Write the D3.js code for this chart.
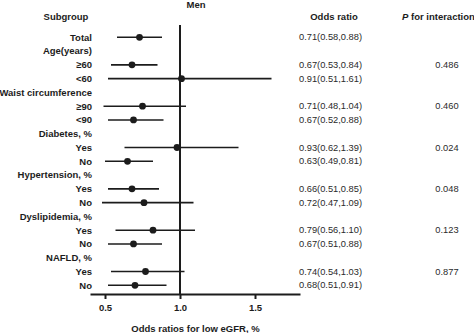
<!DOCTYPE html>
<html><head><meta charset="utf-8">
<script src="https://cdn.jsdelivr.net/npm/d3@7/dist/d3.min.js"></script>
<style>
html,body{margin:0;padding:0;background:#fff;}
svg{display:block;font-family:"Liberation Sans",Arial,sans-serif;}
</style></head>
<body>
<script>
// Row labels (left column), in order
const rowLabels = ["Total","Age(years)","≥60","<60","Waist circumference","≥90","<90",
  "Diabetes, %","Yes","No","Hypertension, %","Yes","No","Dyslipidemia, %","Yes","No","NAFLD, %","Yes","No"];
// Which rows are group headers (no data)
const headerRows = [1,4,7,10,13,16];
// Data rows (index into rowLabels)
const dataRows = [0,2,3,5,6,8,9,11,12,14,15,17,18];
// Plotted point estimates and CI
const pointEst = [0.73,0.68,1.01,0.75,0.69,0.98,0.65,0.68,0.76,0.82,0.69,0.77,0.70];
const ciLow    = [0.58,0.54,0.52,0.49,0.52,0.63,0.50,0.52,0.48,0.57,0.52,0.54,0.52];
const ciHigh   = [0.88,0.85,1.61,1.04,0.89,1.39,0.82,0.86,1.09,1.10,0.88,1.03,0.91];
// Printed odds-ratio text
const orText = ["0.71(0.58,0.88)","0.67(0.53,0.84)","0.91(0.51,1.61)","0.71(0.48,1.04)","0.67(0.52,0.88)",
  "0.93(0.62,1.39)","0.63(0.49,0.81)","0.66(0.51,0.85)","0.72(0.47,1.09)","0.79(0.56,1.10)",
  "0.67(0.51,0.88)","0.74(0.54,1.03)","0.68(0.51,0.91)"];
// P for interaction, at first subrow of each group
const pRows = [2,5,8,11,14,17];
const pValues = ["0.486","0.460","0.024","0.048","0.123","0.877"];
const tickValues = [0.5,1.0,1.5];

const W=474,H=333;
const svg=d3.select("body").append("svg").attr("width",W).attr("height",H);
const ink="#1c1c1c";

const x=d3.scaleLinear().domain([0.4,1.8]).range([90,300]);
const y=d3.scalePoint().domain(d3.range(rowLabels.length)).range([37.3,285.3]);

// Titles / headers
svg.append("text").attr("x",196).attr("y",7.5).attr("text-anchor","middle")
  .attr("font-size",9.5).attr("font-weight","bold").attr("fill",ink).text("Men");
svg.append("text").attr("x",66).attr("y",19.5).attr("text-anchor","middle")
  .attr("font-size",9.5).attr("font-weight","bold").attr("fill",ink).text("Subgroup");
svg.append("text").attr("x",334).attr("y",19.5).attr("text-anchor","middle")
  .attr("font-size",9.5).attr("font-weight","bold").attr("fill",ink).text("Odds ratio");
const ph=svg.append("text").attr("x",402).attr("y",19.5)
  .attr("font-size",9.5).attr("font-weight","bold").attr("fill",ink);
ph.append("tspan").attr("font-style","italic").text("P");
ph.append("tspan").text(" for interaction");

// Row labels
svg.append("g").selectAll("text").data(rowLabels).join("text")
  .attr("x",92).attr("y",(d,i)=>y(i)).attr("dy","0.36em").attr("text-anchor","end")
  .attr("font-size",9.5).attr("font-weight","bold").attr("fill",ink).text(d=>d);

// Reference line at 1.0
svg.append("line").attr("x1",x(1)).attr("x2",x(1)).attr("y1",25).attr("y2",294)
  .attr("stroke",ink).attr("stroke-width",2);

// Axis
const axis=svg.append("g").attr("transform","translate(0,294)")
  .call(d3.axisBottom(x).tickValues(tickValues).tickFormat(d3.format(".1f")).tickSize(5).tickSizeOuter(0));
axis.select(".domain").attr("stroke",ink).attr("stroke-width",2);
axis.selectAll(".tick line").attr("stroke",ink).attr("stroke-width",2);
axis.selectAll(".tick text").attr("fill",ink).attr("font-size",9.5).attr("font-weight","bold")
  .attr("font-family","Liberation Sans, Arial, sans-serif").attr("y",10);

svg.append("text").attr("x",195.5).attr("y",331.5).attr("text-anchor","middle")
  .attr("font-size",9.5).attr("font-weight","bold").attr("fill",ink).text("Odds ratios for low eGFR, %");

// CI lines & points
const g=svg.append("g");
g.selectAll("line.ci").data(dataRows).join("line").attr("class","ci")
  .attr("x1",(d,i)=>x(ciLow[i])).attr("x2",(d,i)=>x(ciHigh[i]))
  .attr("y1",d=>y(d)).attr("y2",d=>y(d)).attr("stroke",ink).attr("stroke-width",1.6);
g.selectAll("circle").data(dataRows).join("circle")
  .attr("cx",(d,i)=>x(pointEst[i])).attr("cy",d=>y(d)).attr("r",3.4).attr("fill",ink);

// OR text
svg.append("g").selectAll("text").data(dataRows).join("text")
  .attr("x",299).attr("y",d=>y(d)).attr("dy","0.34em")
  .attr("font-size",9.3).attr("fill","#2a2a2a").text((d,i)=>orText[i]);

// P values
svg.append("g").selectAll("text").data(pRows).join("text")
  .attr("x",447).attr("y",d=>y(d)).attr("dy","0.34em").attr("text-anchor","middle")
  .attr("font-size",9.3).attr("fill","#2a2a2a").text((d,i)=>pValues[i]);
</script>
</body></html>
